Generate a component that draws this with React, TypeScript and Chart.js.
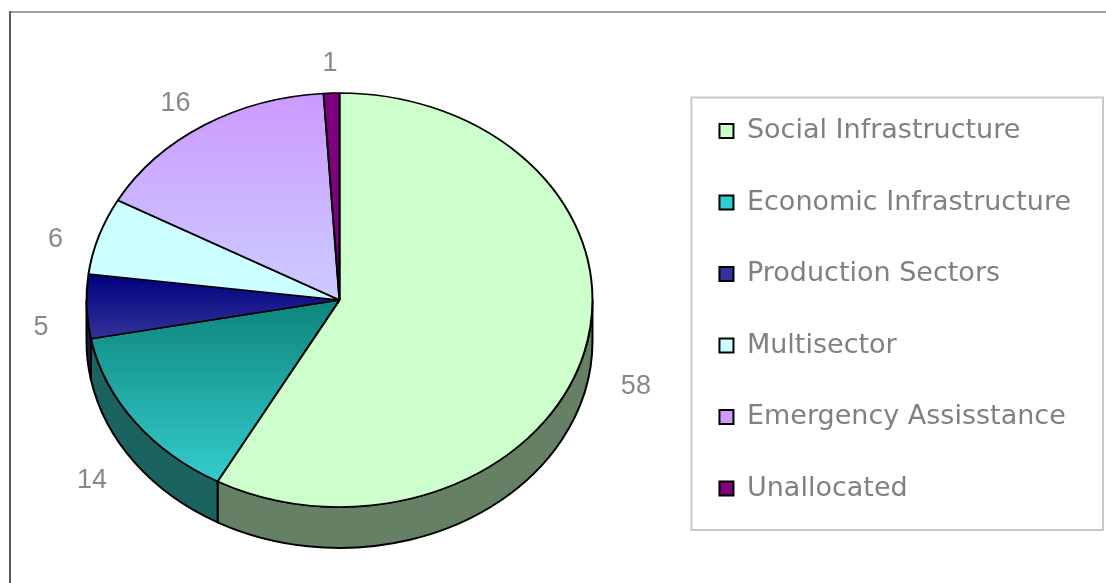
import React, { useEffect, useRef } from "react";
import { Chart, registerables } from "chart.js";

Chart.register(...registerables);

// ---- data ----
const categories = [
  "Social Infrastructure",
  "Economic Infrastructure",
  "Production Sectors",
  "Multisector",
  "Emergency Assisstance",
  "Unallocated",
];
const values = [58, 14, 5, 6, 16, 1];
const valueLabels = ["58", "14", "5", "6", "16", "1"];

// ---- styles ----
const faceColors = ["#CCFFCC", "#33CCCC", "#333399", "#CCFFFF", "#CC99FF", "#800080"];
const gradientTopColors = ["#CCFFCC", "#0E857D", "#000080", "#CCFFFF", "#CC99FF", "#800080"];
const gradientBottomColors = ["#CCFFCC", "#33CCCC", "#333399", "#CCFFFF", "#CCCCFF", "#800080"];
const sideColors = ["#668066", "#1A6360", "#1A1A4D", "#668080", "#664D80", "#400040"];

const RADIUS = 253;
const SQUASH = 0.818;
const DEPTH = 41;
const LABEL_GAP = 38;
const TEXT_GRAY = "#808080";

function sliceAngles(i: number) {
  const total = values.reduce((s, v) => s + v, 0);
  let acc = 0;
  for (let k = 0; k < i; k++) acc += values[k];
  const start = -Math.PI / 2 + (2 * Math.PI * acc) / total;
  const end = start + (2 * Math.PI * values[i]) / total;
  return [start, end];
}

function faceFill(context: any) {
  const i = context.dataIndex;
  const chart = context.chart;
  const area = chart.chartArea;
  if (!area || gradientTopColors[i] === gradientBottomColors[i]) return faceColors[i];
  const cy = (area.top + area.bottom) / 2;
  const [a, b] = sliceAngles(i);
  const sins = [0, Math.sin(a), Math.sin(b)];
  for (let k = -2; k <= 4; k++) {
    const t = Math.PI / 2 + k * Math.PI;
    if (t > a && t < b) sins.push(Math.sin(t));
  }
  const y0 = cy + RADIUS * Math.min(...sins);
  const y1 = cy + RADIUS * Math.max(...sins);
  const g = chart.ctx.createLinearGradient(0, y0, 0, y1);
  g.addColorStop(0, gradientTopColors[i]);
  g.addColorStop(1, gradientBottomColors[i]);
  return g;
}

let squashed = false;

const pie3dPlugin = {
  id: "pie3d",
  beforeDraw(chart: any) {
    const ctx = chart.ctx;
    ctx.save();
    ctx.fillStyle = "#ffffff";
    ctx.fillRect(0, 0, chart.width, chart.height);
    ctx.fillStyle = "#a0a0a0";
    ctx.fillRect(9, 11, chart.width - 9, 2);
    ctx.fillStyle = "#5c5c5c";
    ctx.fillRect(9, 11, 2, chart.height - 11);
    ctx.restore();
  },
  beforeDatasetsDraw(chart: any) {
    const ctx = chart.ctx;
    const arcs = chart.getDatasetMeta(0).data as any[];
    squashed = false;
    if (!arcs.length) return;
    ctx.save();
    arcs.forEach((arc, i) => {
      const { x, y, startAngle, endAngle, outerRadius } = arc;
      for (const k of [0, 2 * Math.PI]) {
        const a = Math.max(startAngle, k);
        const b = Math.min(endAngle, k + Math.PI);
        if (b <= a) continue;
        ctx.beginPath();
        ctx.ellipse(x, y, outerRadius, outerRadius * SQUASH, 0, a, b);
        ctx.ellipse(x, y + DEPTH, outerRadius, outerRadius * SQUASH, 0, b, a, true);
        ctx.closePath();
        ctx.fillStyle = sideColors[i];
        ctx.fill();
        ctx.lineWidth = 2;
        ctx.lineJoin = "round";
        ctx.strokeStyle = "#000";
        ctx.stroke();
      }
    });
    ctx.restore();
    const { x, y } = arcs[0];
    ctx.save();
    ctx.translate(x, y);
    ctx.scale(1, SQUASH);
    ctx.translate(-x, -y);
    squashed = true;
  },
  afterDatasetsDraw(chart: any) {
    const ctx = chart.ctx;
    if (squashed) ctx.restore();
    squashed = false;
    const arcs = chart.getDatasetMeta(0).data as any[];
    ctx.save();
    ctx.font = "27px 'Liberation Sans', Arial, sans-serif";
    ctx.fillStyle = "#888888";
    ctx.textAlign = "center";
    ctx.textBaseline = "middle";
    arcs.forEach((arc, i) => {
      const { x, y, startAngle, endAngle, outerRadius } = arc;
      const mid = (startAngle + endAngle) / 2;
      const c = Math.cos(mid);
      const s = Math.sin(mid);
      const w = ctx.measureText(valueLabels[i]).width;
      const h = 20;
      const px = x + (outerRadius + LABEL_GAP) * c + (w / 2) * c;
      const py =
        y +
        (outerRadius * SQUASH + LABEL_GAP) * s +
        (h / 2) * s +
        DEPTH * (0.45 + 0.5 * Math.max(0, s));
      ctx.fillText(valueLabels[i], px, py);
    });
    ctx.restore();
  },
  afterDraw(chart: any) {
    const lg = chart.legend;
    if (!lg || !lg.legendHitBoxes || !lg.legendHitBoxes.length) return;
    const hb = lg.legendHitBoxes;
    const first = hb[0];
    const last = hb[hb.length - 1];
    const ctx = chart.ctx;
    const left = first.left - 28;
    const top = first.top - 20;
    const right = lg.right + 22;
    const bottom = last.top + last.height + 28;
    ctx.save();
    ctx.strokeStyle = "#c8c8c8";
    ctx.lineWidth = 2;
    ctx.strokeRect(left, top, right - left, bottom - top);
    ctx.restore();
  },
};

export default function App() {
  const canvasRef = useRef<HTMLCanvasElement | null>(null);

  useEffect(() => {
    if (!canvasRef.current) return;
    Chart.defaults.font.family = "'DejaVu Sans', Verdana, sans-serif";
    const chart = new Chart(canvasRef.current, {
      type: "pie",
      data: {
        labels: categories,
        datasets: [
          {
            data: values,
            backgroundColor: faceFill as any,
            borderColor: "#000000",
            borderWidth: 2,
            radius: RADIUS,
          } as any,
        ],
      },
      options: {
        responsive: false,
        devicePixelRatio: 1,
        animation: false,
        events: [],
        layout: { padding: { left: 4, right: 25, top: 17, bottom: 0 } },
        plugins: {
          tooltip: { enabled: false },
          legend: {
            position: "right",
            align: "center",
            title: {
              display: true,
              text: "",
              font: { size: 9.5, lineHeight: 1 },
              padding: { top: 5, bottom: 5 },
            },
            labels: {
              boxWidth: 14,
              boxHeight: 14,
              padding: 44.5,
              color: TEXT_GRAY,
              font: { family: "'DejaVu Sans', Verdana, sans-serif", size: 27 },
              generateLabels: () =>
                categories.map((text, i) => ({
                  text,
                  fillStyle: faceColors[i],
                  strokeStyle: "#000000",
                  lineWidth: 2,
                  hidden: false,
                  index: i,
                  datasetIndex: 0,
                  fontColor: TEXT_GRAY,
                })),
            },
          },
        },
      },
      plugins: [pie3dPlugin],
    });
    return () => chart.destroy();
  }, []);

  return (
    <div
      style={{
        position: "fixed",
        left: 0,
        top: 0,
        width: 1106,
        height: 583,
        background: "#fff",
      }}
    >
      <canvas ref={canvasRef} width={1106} height={583} style={{ display: "block" }} />
    </div>
  );
}
